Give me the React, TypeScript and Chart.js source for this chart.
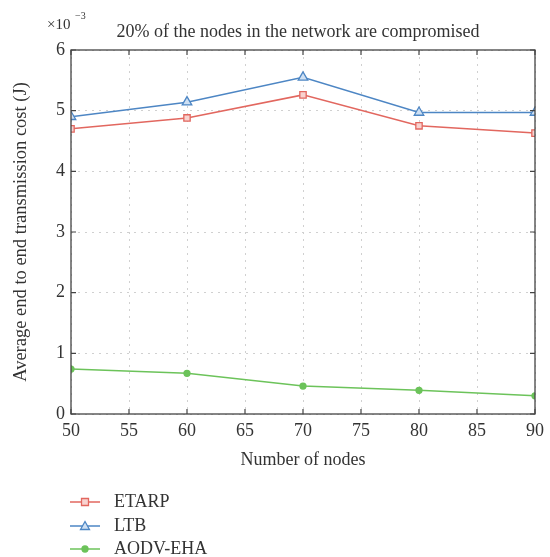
import React, { useEffect, useRef } from "react";
import { Chart, registerables } from "chart.js";

Chart.register(...registerables);

const nodes = [50, 60, 70, 80, 90];
const etarp = [4.7, 4.88, 5.26, 4.75, 4.63];
const ltb = [4.9, 5.14, 5.55, 4.97, 4.97];
const aodvEha = [0.74, 0.67, 0.46, 0.39, 0.3];

const seriesNames = ["ETARP", "LTB", "AODV-EHA"];
const titleText = "20% of the nodes in the network are compromised";
const xTitle = "Number of nodes";
const yTitle = "Average end to end transmission cost (J)";

const FONT = "'Liberation Serif', 'DejaVu Serif', serif";
const TEXT = "#333";

const colors = ["#e2675f", "#4d86c4", "#6cc35a"];
const fills = ["#f8d3d0", "#cfe0f3", "#6cc35a"];
const styles = ["rect", "triangle", "circle"];

function drawMarker(ctx: CanvasRenderingContext2D, style: string, x: number, y: number, color: string, fill: string) {
  ctx.save();
  ctx.strokeStyle = color;
  ctx.fillStyle = fill;
  ctx.lineWidth = 1.3;
  ctx.beginPath();
  if (style === "rect") {
    ctx.rect(x - 3.5, y - 3.5, 7, 7);
  } else if (style === "triangle") {
    ctx.moveTo(x, y - 4.5);
    ctx.lineTo(x + 4.5, y + 3.5);
    ctx.lineTo(x - 4.5, y + 3.5);
    ctx.closePath();
  } else {
    ctx.arc(x, y, 3, 0, Math.PI * 2);
  }
  ctx.fill();
  ctx.stroke();
  ctx.restore();
}

const decorPlugin = {
  id: "decor",
  afterDraw(chart: any) {
    const ctx: CanvasRenderingContext2D = chart.ctx;
    const { left, right, top, bottom } = chart.chartArea;
    const xs = chart.scales.x;
    const ys = chart.scales.y;
    ctx.save();
    // box
    ctx.strokeStyle = "#444";
    ctx.lineWidth = 1.3;
    ctx.strokeRect(left, top, right - left, bottom - top);
    // inward ticks
    ctx.lineWidth = 1.2;
    xs.ticks.forEach((t: any) => {
      const px = xs.getPixelForValue(t.value);
      ctx.beginPath();
      ctx.moveTo(px, bottom);
      ctx.lineTo(px, bottom - 5);
      ctx.moveTo(px, top);
      ctx.lineTo(px, top + 5);
      ctx.stroke();
    });
    ys.ticks.forEach((t: any) => {
      const py = ys.getPixelForValue(t.value);
      ctx.beginPath();
      ctx.moveTo(left, py);
      ctx.lineTo(left + 5, py);
      ctx.moveTo(right, py);
      ctx.lineTo(right - 5, py);
      ctx.stroke();
    });
    // title
    ctx.fillStyle = TEXT;
    ctx.font = `18px ${FONT}`;
    ctx.textAlign = "center";
    ctx.textBaseline = "middle";
    ctx.fillText(titleText, 298, 32);
    // exponent
    ctx.textAlign = "left";
    ctx.font = `15px ${FONT}`;
    ctx.fillText("\u00d710", 47, 25);
    ctx.font = `10px ${FONT}`;
    ctx.fillText("\u22123", 75, 16);
    // legend
    const ys0 = [502, 526, 549];
    seriesNames.forEach((name, i) => {
      const y = ys0[i];
      ctx.strokeStyle = colors[i];
      ctx.lineWidth = 1.5;
      ctx.beginPath();
      ctx.moveTo(70, y);
      ctx.lineTo(100, y);
      ctx.stroke();
      drawMarker(ctx, styles[i], 85, y, colors[i], fills[i]);
      ctx.fillStyle = TEXT;
      ctx.font = `18px ${FONT}`;
      ctx.textAlign = "left";
      ctx.textBaseline = "middle";
      ctx.fillText(name, 114, y);
    });
    ctx.restore();
  },
};

export default function App() {
  const ref = useRef<HTMLCanvasElement | null>(null);
  useEffect(() => {
    document.body.style.margin = "0";
    const canvas = ref.current;
    if (!canvas) return;
    const seriesData = [etarp, ltb, aodvEha];
    const chart = new Chart(canvas, {
      type: "line",
      data: {
        datasets: seriesNames.map((name, i) => ({
          label: name,
          data: nodes.map((n, j) => ({ x: n, y: seriesData[i][j] })),
          borderColor: colors[i],
          backgroundColor: fills[i],
          borderWidth: 1.5,
          pointStyle: styles[i] as any,
          pointRadius: i === 2 ? 3 : i === 1 ? 5.5 : 4.5,
          pointBorderWidth: 1.3,
          pointBorderColor: colors[i],
          pointBackgroundColor: fills[i],
          tension: 0,
          fill: false,
        })),
      },
      options: {
        animation: false,
        responsive: false,
        layout: { padding: { left: 0, right: 14, top: 50, bottom: 83 } },
        plugins: {
          legend: { display: false },
          title: { display: false },
          tooltip: { enabled: false },
        },
        scales: {
          x: {
            type: "linear",
            min: 50,
            max: 90,
            afterFit: (s: any) => {
              s.height = 60;
            },
            ticks: {
              stepSize: 5,
              color: TEXT,
              padding: 6,
              font: { family: FONT, size: 18 },
            },
            grid: { color: "#d0d0d0", lineWidth: 1, drawTicks: false },
            border: { display: false, dash: [2, 5] },
            title: {
              display: true,
              text: xTitle,
              color: TEXT,
              font: { family: FONT, size: 18 },
              padding: { top: 0, bottom: 3 },
            },
          },
          y: {
            min: 0,
            max: 6,
            afterFit: (s: any) => {
              s.width = 71;
            },
            ticks: {
              stepSize: 1,
              color: TEXT,
              padding: 6,
              font: { family: FONT, size: 18 },
            },
            grid: { color: "#d0d0d0", lineWidth: 1, drawTicks: false },
            border: { display: false, dash: [2, 5] },
            title: {
              display: true,
              text: yTitle,
              color: TEXT,
              font: { family: FONT, size: 18.5 },
              padding: { top: 10, bottom: 0 },
            },
          },
        },
      },
      plugins: [decorPlugin],
    });
    return () => chart.destroy();
  }, []);
  return <canvas ref={ref} width={550} height={557} style={{ display: "block" }} />;
}
